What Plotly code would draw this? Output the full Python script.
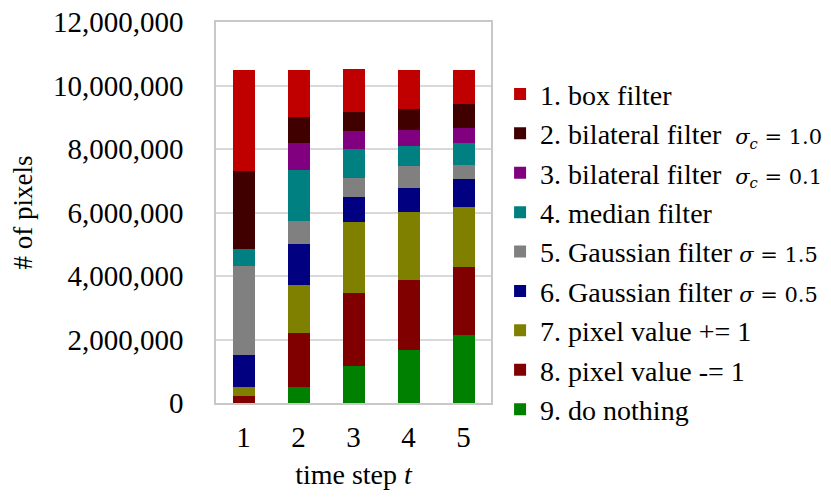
import plotly.graph_objects as go

# time steps on the x axis
steps = ["1", "2", "3", "4", "5"]

# pixel counts per action (stack order bottom -> top)
do_nothing = [0, 490000, 1180000, 1680000, 2140000]
pixel_minus = [220000, 1710000, 2280000, 2190000, 2130000]
pixel_plus = [270000, 1530000, 2250000, 2160000, 1910000]
gauss_05 = [1030000, 1280000, 790000, 750000, 860000]
gauss_15 = [2790000, 730000, 600000, 670000, 470000]
median = [550000, 1610000, 910000, 660000, 670000]
bilateral_01 = [0, 850000, 570000, 490000, 490000]
bilateral_10 = [2450000, 820000, 580000, 660000, 740000]
box = [3190000, 1480000, 1350000, 1230000, 1090000]

y_ticks = [0, 2000000, 4000000, 6000000, 8000000, 10000000, 12000000]

sig = "<span style='font-family:DejaVu Serif;font-size:21px'>"
series = [
    ("9. do nothing", do_nothing, "#008000"),
    ("8. pixel value -= 1", pixel_minus, "#800000"),
    ("7. pixel value += 1", pixel_plus, "#808000"),
    ("6. Gaussian filter " + sig + "<i>σ</i> = 0.5</span>", gauss_05, "#000080"),
    ("5. Gaussian filter " + sig + "<i>σ</i> = 1.5</span>", gauss_15, "#808080"),
    ("4. median filter", median, "#008080"),
    ("3. bilateral filter  " + sig + "<i>σ<sub>c</sub></i> = 0.1</span>", bilateral_01, "#800080"),
    ("2. bilateral filter  " + sig + "<i>σ<sub>c</sub></i> = 1.0</span>", bilateral_10, "#400000"),
    ("1. box filter", box, "#C00000"),
]

fig = go.Figure()
for name, vals, col in series:
    fig.add_trace(go.Bar(
        x=steps,
        y=vals,
        name=name,
        marker=dict(color=col, line=dict(width=0)),
    ))

# page body adds an 8px offset, so the figure is 8px smaller
fig.update_layout(
    width=823,
    height=491,
    barmode="stack",
    bargap=0.6,
    plot_bgcolor="white",
    paper_bgcolor="white",
    font=dict(family="Liberation Serif", size=28, color="black"),
    margin=dict(l=208, r=340, t=14, b=96, autoexpand=False),
    legend=dict(
        x=1.033, y=0.876, xanchor="left", yanchor="top",
        traceorder="reversed",
        font=dict(size=28),
        itemwidth=30,
    ),
)
fig.update_xaxes(
    title=dict(text="time step <i>t</i>", standoff=13, font=dict(size=28)),
    showline=True, linecolor="#C8C8C8", linewidth=1.5, mirror=True,
    tickfont=dict(size=29),
    ticks="", ticklabelstandoff=7,
)
fig.update_yaxes(
    title=dict(text="# of pixels", standoff=14, font=dict(size=27)),
    range=[0, 12000000],
    tickvals=y_ticks,
    tickformat=",d",
    tickfont=dict(size=29),
    ticklabeloverflow="allow",
    showgrid=True, gridcolor="#D9D9D9", gridwidth=1.5,
    showline=True, linecolor="#C8C8C8", linewidth=1.5, mirror=True,
    zeroline=False,
    ticks="", ticklabelstandoff=25,
)

fig.write_html("out.html")
